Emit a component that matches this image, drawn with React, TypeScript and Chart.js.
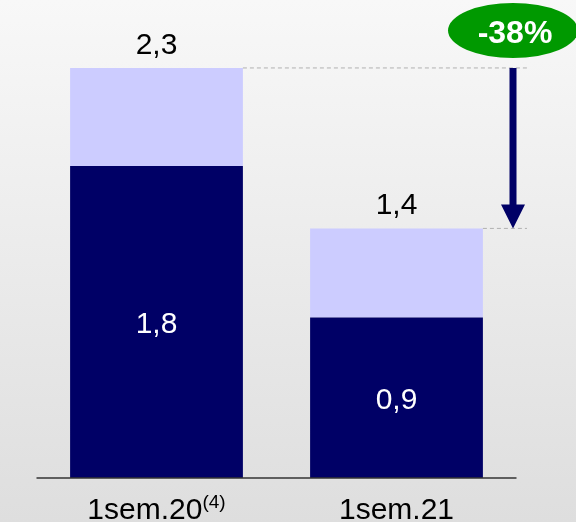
import React, { useEffect, useRef } from "react";
import { Chart, registerables } from "chart.js";

Chart.register(...registerables);

const categories = ["1sem.20", "1sem.21"];
const categorySuperscripts = ["(4)", ""];
const baseValues = [1.75, 0.9];
const topValues = [0.55, 0.5];
const baseLabels = ["1,8", "0,9"];
const totalLabels = ["2,3", "1,4"];
const changeLabel = "-38%";

const FONT = "'Liberation Sans', Arial, sans-serif";

const overlayPlugin = {
  id: "overlay",
  afterDatasetsDraw(chart: any) {
    const { ctx, chartArea } = chart;
    const yScale = chart.scales.y;
    const y0 = yScale.getPixelForValue(0);
    const baseMeta = chart.getDatasetMeta(0).data;
    const topMeta = chart.getDatasetMeta(1).data;

    ctx.save();
    // axis line
    ctx.strokeStyle = "#333333";
    ctx.lineWidth = 1.5;
    ctx.beginPath();
    ctx.moveTo(chartArea.left, y0);
    ctx.lineTo(chartArea.right, y0);
    ctx.stroke();

    ctx.textAlign = "center";
    for (let i = 0; i < categories.length; i++) {
      const b = baseMeta[i];
      const t = topMeta[i];
      // inside labels
      ctx.fillStyle = "#ffffff";
      ctx.font = `30px ${FONT}`;
      ctx.textBaseline = "alphabetic";
      ctx.fillText(baseLabels[i], b.x, (b.y + b.base) / 2 + 11);
      // total labels
      ctx.fillStyle = "#000000";
      ctx.fillText(totalLabels[i], t.x, t.y - 14);
      // category labels
      ctx.font = `30px ${FONT}`;
      const mainW = ctx.measureText(categories[i]).width;
      ctx.font = `19px ${FONT}`;
      const supW = categorySuperscripts[i] ? ctx.measureText(categorySuperscripts[i]).width : 0;
      const startX = b.x - (mainW + supW) / 2;
      ctx.textAlign = "left";
      ctx.font = `30px ${FONT}`;
      ctx.fillText(categories[i], startX, y0 + 41);
      if (supW) {
        ctx.font = `19px ${FONT}`;
        ctx.fillText(categorySuperscripts[i], startX + mainW, y0 + 30);
      }
      ctx.textAlign = "center";
    }

    // dashed reference lines + arrow
    const arrowX = chartArea.right - 3.5;
    const t0 = topMeta[0];
    const t1 = topMeta[1];
    ctx.strokeStyle = "#b0b0b0";
    ctx.lineWidth = 1;
    ctx.setLineDash([4, 3]);
    ctx.beginPath();
    ctx.moveTo(t0.x + t0.width / 2, t0.y);
    ctx.lineTo(arrowX + 14, t0.y);
    ctx.moveTo(t1.x + t1.width / 2, t1.y);
    ctx.lineTo(arrowX + 14, t1.y);
    ctx.stroke();
    ctx.setLineDash([]);

    ctx.strokeStyle = "#000066";
    ctx.fillStyle = "#000066";
    ctx.lineWidth = 7;
    ctx.beginPath();
    ctx.moveTo(arrowX, t0.y);
    ctx.lineTo(arrowX, t1.y - 22);
    ctx.stroke();
    ctx.beginPath();
    ctx.moveTo(arrowX - 12, t1.y - 24);
    ctx.lineTo(arrowX + 12, t1.y - 24);
    ctx.lineTo(arrowX, t1.y);
    ctx.closePath();
    ctx.fill();

    // badge
    ctx.fillStyle = "#009900";
    ctx.beginPath();
    ctx.ellipse(arrowX, 30.5, 65, 27.5, 0, 0, Math.PI * 2);
    ctx.fill();
    ctx.fillStyle = "#ffffff";
    ctx.font = `bold 32px ${FONT}`;
    ctx.textAlign = "center";
    ctx.textBaseline = "alphabetic";
    ctx.fillText(changeLabel, arrowX + 2, 43);
    ctx.restore();
  },
};

export default function App() {
  const ref = useRef<HTMLCanvasElement>(null);
  useEffect(() => {
    document.body.style.margin = "0";
    const chart = new Chart(ref.current as HTMLCanvasElement, {
      type: "bar",
      data: {
        labels: categories,
        datasets: [
          {
            data: baseValues,
            backgroundColor: "#000066",
            categoryPercentage: 1,
            barPercentage: 0.72,
          },
          {
            data: topValues,
            backgroundColor: "#ccccff",
            categoryPercentage: 1,
            barPercentage: 0.72,
          },
        ],
      },
      options: {
        animation: false,
        responsive: true,
        maintainAspectRatio: false,
        layout: { padding: { left: 36.5, right: 59.5, top: 10, bottom: 44 } },
        plugins: { legend: { display: false }, tooltip: { enabled: false } },
        scales: {
          x: { stacked: true, display: false },
          y: { stacked: true, display: false, min: 0, max: 2.625 },
        },
      },
      plugins: [overlayPlugin],
    });
    return () => chart.destroy();
  }, []);
  return (
    <div
      style={{
        position: "absolute",
        left: 0,
        top: 0,
        width: 576,
        height: 522,
        background: "linear-gradient(#f8f8f8, #dedede)",
      }}
    >
      <canvas ref={ref} />
    </div>
  );
}
